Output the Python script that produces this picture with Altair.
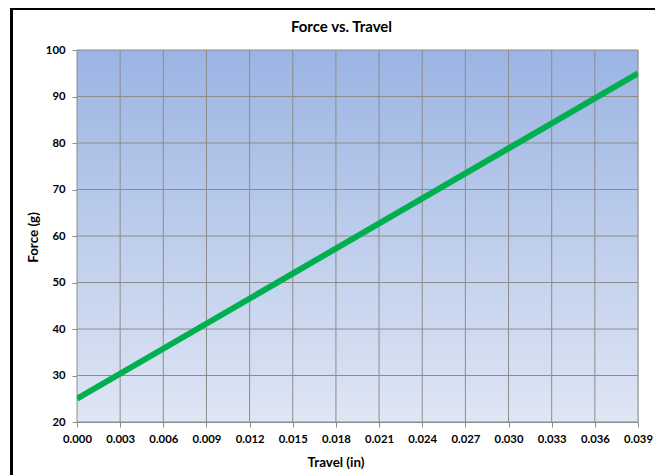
import altair as alt
import pandas as pd

travel = [0.000, 0.039]
force = [25, 95]
x_ticks = [0.000, 0.003, 0.006, 0.009, 0.012, 0.015, 0.018, 0.021,
           0.024, 0.027, 0.030, 0.033, 0.036, 0.039]
y_ticks = [20, 30, 40, 50, 60, 70, 80, 90, 100]
chart_title = "Force vs. Travel"
x_title = "Travel (in)"
y_title = "Force (g)"

df = pd.DataFrame({"travel": travel, "force": force})
dx = pd.DataFrame({"travel": x_ticks})
dy = pd.DataFrame({"force": y_ticks})
one = pd.DataFrame({"a": [0]})

W, H = 561, 372
FONT = "Lato"
GRID = "#8c8c8c"
xs = alt.Scale(domain=[0, 0.039], nice=False)
ys = alt.Scale(domain=[20, 100], nice=False)

x_axis = alt.Axis(values=x_ticks, format=".3f", title=None, grid=False,
                  domainColor=GRID, tickColor=GRID, tickSize=5,
                  labelFlush=False, labelOverlap=False,
                  labelFont=FONT, labelFontSize=11.3, labelFontWeight="bold",
                  labelColor="#000", labelPadding=6)
y_axis = alt.Axis(values=y_ticks, title=None, grid=False,
                  domainColor=GRID, tickColor=GRID, tickSize=5,
                  labelFlush=False, labelOverlap=False,
                  labelFont=FONT, labelFontSize=11.3, labelFontWeight="bold",
                  labelColor="#000", labelPadding=7)

bg = alt.Chart(one).mark_rect(
    color=alt.Gradient(
        gradient="linear",
        stops=[alt.GradientStop(color="#9bb4e3", offset=0),
               alt.GradientStop(color="#dfe6f4", offset=1)],
        x1=0, x2=0, y1=0, y2=1,
    )
).encode(x=alt.value(0), x2=alt.value(W), y=alt.value(0), y2=alt.value(H))

vgrid = alt.Chart(dx).mark_rule(color=GRID, strokeWidth=1).encode(
    x=alt.X("travel:Q", scale=xs, axis=x_axis), y=alt.value(0), y2=alt.value(H))
hgrid = alt.Chart(dy).mark_rule(color=GRID, strokeWidth=1).encode(
    y=alt.Y("force:Q", scale=ys, axis=y_axis), x=alt.value(0), x2=alt.value(W))

line = alt.Chart(df).mark_line(color="#00b050", strokeWidth=6, clip=True).encode(
    x=alt.X("travel:Q", scale=xs, axis=x_axis),
    y=alt.Y("force:Q", scale=ys, axis=y_axis),
)

t_main = alt.Chart(one).mark_text(text=chart_title, font=FONT, fontSize=15, fontWeight="bold",
                                   color="#000", align="center", baseline="middle").encode(
    x=alt.value(264.5), y=alt.value(-23))
t_x = alt.Chart(one).mark_text(text=x_title, font=FONT, fontSize=13.4, fontWeight="bold",
                                color="#000", align="center", baseline="middle").encode(
    x=alt.value(259), y=alt.value(413))
t_y = alt.Chart(one).mark_text(text=y_title, font=FONT, fontSize=13.4, fontWeight="bold",
                                color="#000", align="center", baseline="middle", angle=270).encode(
    x=alt.value(-43), y=alt.value(187.5))

frame_left = alt.Chart(one).mark_rule(color="#000", strokeWidth=3).encode(
    x=alt.value(-65.5), y=alt.value(-43), y2=alt.value(H + 60))
frame_top = alt.Chart(one).mark_rule(color="#000", strokeWidth=3).encode(
    x=alt.value(-67), x2=alt.value(578), y=alt.value(-41.5))

chart = alt.layer(bg, vgrid, hgrid, line, t_main, t_x, t_y,
                  frame_left, frame_top).properties(
    width=W, height=H,
    autosize=alt.AutoSizeParams(type="none"),
    padding={"left": 69, "top": 42, "right": 17, "bottom": 53},
).configure_view(stroke=None).configure(background="white")

chart.save("out.html", embed_options={"renderer": "svg", "actions": False})
